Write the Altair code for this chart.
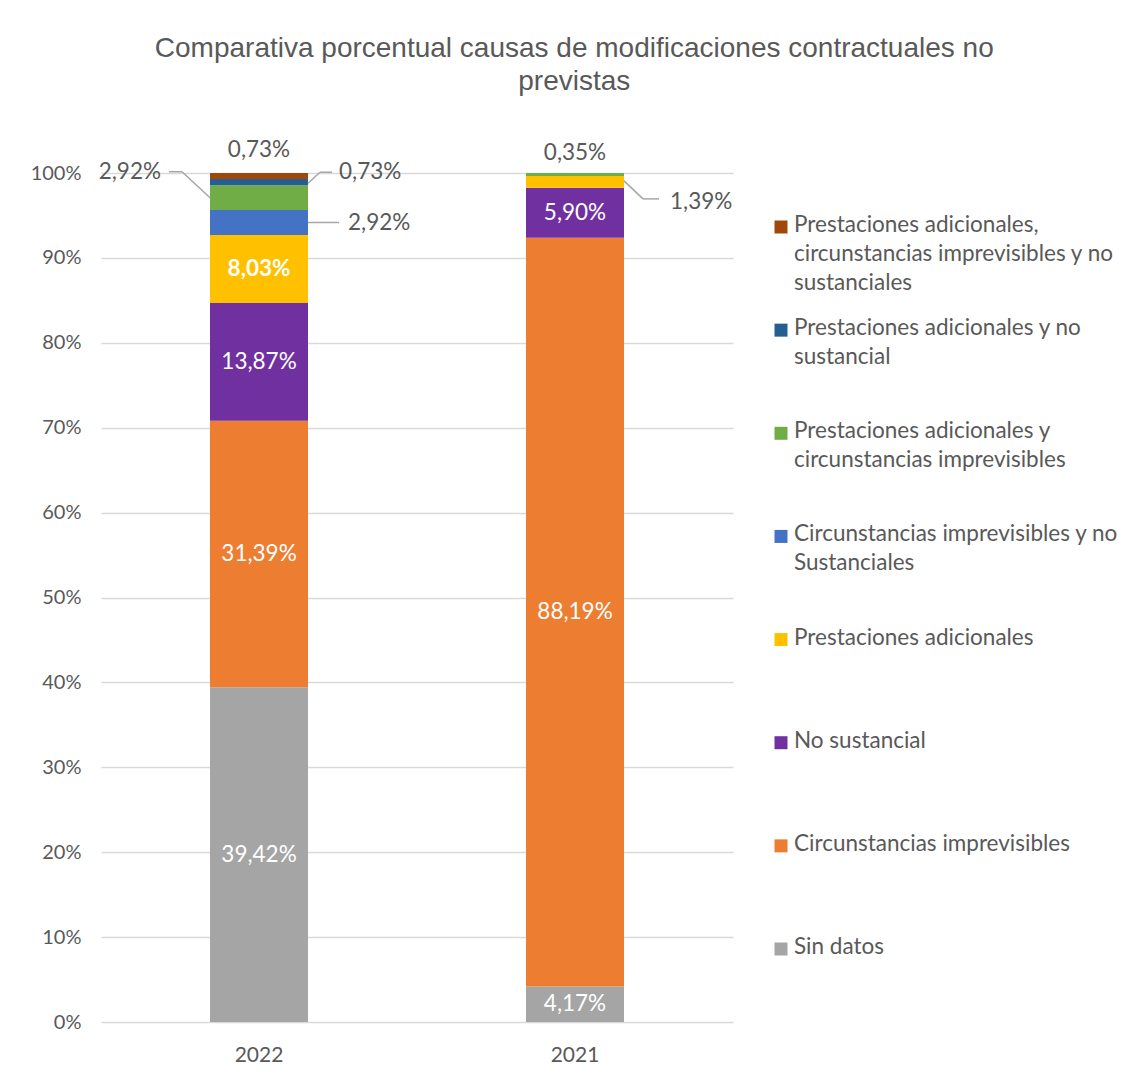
import altair as alt
import pandas as pd

years = ["2022", "2021"]
categories = [
    "Sin datos",
    "Circunstancias imprevisibles",
    "No sustancial",
    "Prestaciones adicionales",
    "Circunstancias imprevisibles y no Sustanciales",
    "Prestaciones adicionales y circunstancias imprevisibles",
    "Prestaciones adicionales y no sustancial",
    "Prestaciones adicionales, circunstancias imprevisibles y no sustanciales",
]
values_2022 = [39.42, 31.39, 13.87, 8.03, 2.92, 2.92, 0.73, 0.73]
values_2021 = [4.17, 88.19, 5.90, 1.39, 0.0, 0.35, 0.0, 0.0]
colors = ["#A5A5A5", "#ED7D31", "#7030A0", "#FFC000", "#4472C4", "#70AD47", "#255E91", "#9E480E"]
legend_labels = [
    "Prestaciones adicionales,\ncircunstancias imprevisibles y no\nsustanciales",
    "Prestaciones adicionales y no\nsustancial",
    "Prestaciones adicionales y\ncircunstancias imprevisibles",
    "Circunstancias imprevisibles y no\nSustanciales",
    "Prestaciones adicionales",
    "No sustancial",
    "Circunstancias imprevisibles",
    "Sin datos",
]
title_lines = ["Comparativa porcentual  causas de modificaciones contractuales no", "previstas"]

GRAY_TXT = "#595959"
LEADER = "#A6A6A6"
FONT = "Lato"
LBL = 22.5

rows = []
for year, vals in zip(years, [values_2022, values_2021]):
    base = 0.0
    for cat, v in zip(categories, vals):
        if v > 0:
            rows.append({
                "year": year, "cat": cat, "value": v,
                "base": base, "top": base + v, "mid": base + v / 2,
                "label": f"{v:.2f}".replace(".", ",") + "%",
            })
        base += v
df = pd.DataFrame(rows)

xscale = alt.Scale(domain=years, paddingInner=0, paddingOuter=0)
yscale = alt.Scale(domain=[0, 100], nice=False)
cscale = alt.Scale(domain=categories, range=colors)

bars = alt.Chart(df).mark_bar(width=98).encode(
    x=alt.X("year:N", scale=xscale, sort=years, title=None,
            axis=alt.Axis(labelAngle=0, ticks=False, domain=False, labelFontSize=21,
                          labelColor=GRAY_TXT, labelPadding=22, labelFont=FONT)),
    y=alt.Y("base:Q", scale=yscale, title=None,
            axis=alt.Axis(values=list(range(0, 101, 10)), labelExpr="datum.value + '%'",
                          ticks=False, domain=False, labelFontSize=20, labelColor=GRAY_TXT,
                          labelPadding=20, gridColor="#D9D9D9", gridWidth=1.5, labelFont=FONT)),
    y2="top:Q",
    color=alt.Color("cat:N", scale=cscale, legend=None),
)

bold_test = "datum.year == '2022' && datum.cat == 'Prestaciones adicionales'"
inside = alt.Chart(df).transform_filter(f"datum.value >= 4 && !({bold_test})").mark_text(
    color="white", fontSize=LBL, font=FONT, baseline="middle", align="center"
).encode(x=alt.X("year:N", sort=years), y="mid:Q", text="label:N")
inside_bold = alt.Chart(df).transform_filter(bold_test).mark_text(
    color="white", fontSize=LBL, font=FONT, baseline="middle", align="center", fontWeight="bold"
).encode(x=alt.X("year:N", sort=years), y="mid:Q", text="label:N")

# outside labels: (year, category, anchor field, dx, dy, align)
outside_specs = [
    ("2022", categories[7], "top", 0, -23, "center"),
    ("2022", categories[6], "mid", 80, -10, "left"),
    ("2022", categories[5], "mid", -98, -26, "right"),
    ("2022", categories[4], "mid", 89, 1, "left"),
    ("2021", categories[5], "top", 0, -20, "center"),
    ("2021", categories[3], "mid", 95, 20, "left"),
]
# leader segments: (year, category, x1, y1, x2, y2) pixel offsets from bar centre / segment mid
leader_specs = [
    ("2022", categories[6], 49, 1, 61, -10),
    ("2022", categories[6], 61, -10, 73, -10),
    ("2022", categories[5], -49, 0, -77, -26),
    ("2022", categories[5], -77, -26, -90, -26),
    ("2022", categories[4], 49, 0, 80, 0),
    ("2021", categories[3], 49, -1, 68, 17),
    ("2021", categories[3], 68, 17, 84, 17),
]

layers = [bars, inside, inside_bold]
for year, cat, field, dx, dy, align in outside_specs:
    layers.append(
        alt.Chart(df).transform_filter(
            alt.FieldEqualPredicate(field="year", equal=year)
        ).transform_filter(
            alt.FieldEqualPredicate(field="cat", equal=cat)
        ).mark_text(color=GRAY_TXT, fontSize=LBL, font=FONT, dx=dx, dy=dy, align=align,
                    baseline="middle").encode(
            x=alt.X("year:N", sort=years), y=alt.Y(f"{field}:Q"), text="label:N")
    )
for year, cat, x1, y1, x2, y2 in leader_specs:
    layers.append(
        alt.Chart(df).transform_filter(
            alt.FieldEqualPredicate(field="year", equal=year)
        ).transform_filter(
            alt.FieldEqualPredicate(field="cat", equal=cat)
        ).mark_rule(color=LEADER, strokeWidth=1.5, xOffset=x1, x2Offset=x2,
                    yOffset=y1, y2Offset=y2).encode(
            x=alt.X("year:N", sort=years), x2=alt.X2("year"),
            y="mid:Q", y2=alt.Y2("mid"))
    )

main = alt.layer(*layers).properties(width=632, height=849)

leg_df = pd.DataFrame({
    "label": legend_labels,
    "cat": [l.replace("\n", " ") for l in legend_labels],
})
leg_y = alt.Y("cat:N", sort=leg_df["cat"].tolist(), axis=None,
              scale=alt.Scale(type="point", range=[54, 776], padding=0))
leg_sq = alt.Chart(leg_df).mark_square(size=169, opacity=1).encode(
    x=alt.value(7), y=leg_y,
    color=alt.Color("cat:N", scale=cscale, legend=None),
)
leg_txt = alt.Chart(leg_df).mark_text(
    align="left", baseline="top", fontSize=LBL, font=FONT, color=GRAY_TXT,
    lineBreak="\n", lineHeight=29, dy=-13
).encode(x=alt.value(20), y=leg_y, text="label:N")
legend = alt.layer(leg_sq, leg_txt).properties(width=340, height=849)

chart = alt.hconcat(main, legend, spacing=41).properties(
    title=alt.Title(title_lines, anchor="middle", fontSize=28, font="Liberation Sans",
                    fontWeight="normal", color=GRAY_TXT, lineHeight=33, offset=43),
    padding={"left": 22, "top": 26, "right": 5, "bottom": 5},
).configure_view(stroke=None).resolve_scale(color="shared")

chart.save("out.html", embed_options={"renderer": "svg", "actions": False})
